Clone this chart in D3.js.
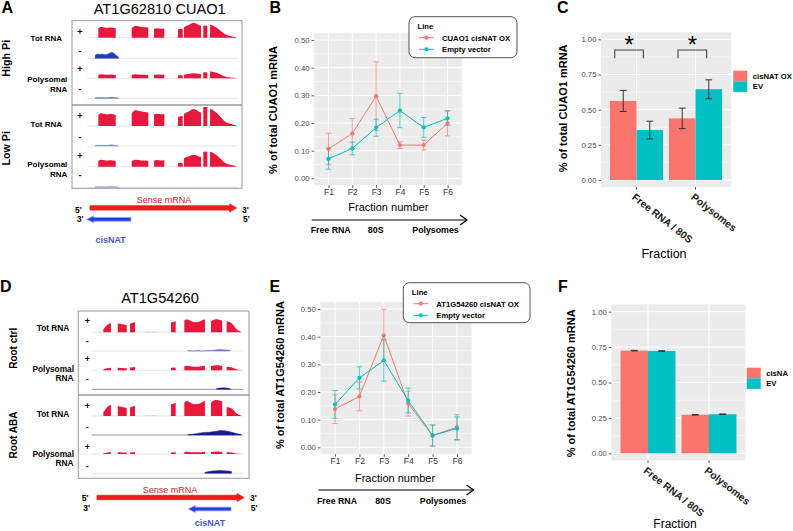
<!DOCTYPE html>
<html>
<head>
<meta charset="utf-8">
<script src="https://cdn.jsdelivr.net/npm/d3@7"></script>
<style>
body { margin: 0; background: #fff; }
svg { display: block; font-family: "Liberation Sans", Arial, sans-serif; }
</style>
</head>
<body>
<svg id="fig" width="793" height="531"></svg>
<script>
//Fractions of the sucrose gradient
var fractions = ["F1", "F2", "F3", "F4", "F5", "F6"];
var lineTicks = [0, 0.1, 0.2, 0.3, 0.4, 0.5];

//Panel B - CUAO1 mRNA per fraction
var cuaoOx = [0.106, 0.162, 0.297, 0.120, 0.120, 0.199];
var cuaoOxErr = [0.057, 0.054, 0.124, 0.012, 0.018, 0.046];
var cuaoEv = [0.070, 0.108, 0.183, 0.245, 0.184, 0.217];
var cuaoEvErr = [0.037, 0.023, 0.031, 0.062, 0.036, 0.026];

//Panel E - AT1G54260 mRNA per fraction
var at54Ox = [0.138, 0.184, 0.405, 0.158, 0.042, 0.073];
var at54OxErr = [0.052, 0.052, 0.094, 0.045, 0.038, 0.045];
var at54Ev = [0.155, 0.251, 0.314, 0.169, 0.043, 0.068];
var at54EvErr = [0.050, 0.040, 0.075, 0.045, 0.038, 0.042];

//Panels C and F - pooled fractions
var poolGroups = ["Free RNA / 80S", "Polysomes"];
var barTicks = [0, 0.25, 0.5, 0.75, 1];
var cuaoPoolOx = [0.562, 0.438];
var cuaoPoolOxErr = [0.075, 0.073];
var cuaoPoolEv = [0.355, 0.645];
var cuaoPoolEvErr = [0.063, 0.067];
var at54PoolOx = [0.725, 0.272];
var at54PoolEv = [0.722, 0.276];
var at54PoolErr = [0.002, 0.002];

//Panel A - browser coverage, CUAO1 locus (positions 0-1000)
var cuaoExons = [[73, 188], [294, 404], [442, 510], [601, 632], [640, 753], [768, 795], [813, 985]];
var cuaoShapes = [
    [0.85, 1, 0.95, 0.9, 0.9, 0.92, 0.9, 0.85],
    [0.8, 1, 0.95, 0.9, 0.88, 0.85],
    [0.9, 0.95, 0.9, 0.92],
    [0.85, 0.9],
    [0.7, 0.8, 0.85, 0.95, 1, 0.95, 0.85, 0.8],
    [1, 1],
    [1, 0.95, 0.85, 0.75, 0.6, 0.45, 0.3, 0.2, 0.15, 0.12, 0.08, 0.05]
];
var cuaoHighTot = [11, 12, 10, 10, 15, 12, 13];
var cuaoHighPoly = [4, 4, 4, 3.5, 5, 6, 7];
var cuaoLowTot = [13, 16, 13, 11, 17, 19, 17];
var cuaoLowPoly = [7, 7, 7, 4.5, 12, 15, 15];
var cuaoAntiSpan = [52, 206];
var cuaoAntiShape = [0.5, 0.7, 0.65, 0.7, 0.6, 0.65, 0.8, 1, 0.85, 0.5, 0.2];
var cuaoAntiPeaks = [6, 1, 1.2, 0.8];
var cuaoSense = [18, 989];
var cuaoNat = [-4, 289];

//Panel D - browser coverage, AT1G54260 locus
var at54Exons = [[77, 127], [172, 231], [253, 286], [352, 437], [523, 554], [611, 747], [787, 861], [890, 985]];
var at54Shapes = [
    [0.35, 0.6, 0.8, 0.95, 1],
    [1, 0.95, 0.9, 0.85, 0.8],
    [0.85, 0.95, 1],
    [1, 0, 1, 0, 1, 0, 1],
    [0.9, 1],
    [0.9, 1, 0.95, 0.85, 0.8, 0.78, 0.8, 0.85, 0.95, 1],
    [0.85, 0.95, 1, 1, 0.95, 0.9],
    [1, 0.95, 0.85, 0.6, 0.3, 0.15, 0.05]
];
var at54CtrlTot = [9, 9, 10, 0.7, 11, 13, 13, 11];
var at54CtrlPoly = [2.5, 2.5, 3.2, 0, 2.8, 4.5, 5, 3.5];
var at54AbaTot = [11, 10, 10, 0.7, 13, 15, 16, 9];
var at54AbaPoly = [1.8, 1.8, 1.8, 0, 1.8, 2.2, 2.4, 1.8];
var at54AntiSpans = [[635, 913], [824, 913], [635, 985], [747, 923]];
var at54AntiShapes = [
    [0.3, 0, 0, 0.3, 0, 0, 0.3, 0.3, 0.5, 0.8, 0.9, 0.8, 0.7, 0.5],
    [0.5, 0.8, 1, 0.8, 0.5],
    [0.1, 0.15, 0.3, 0.45, 0.55, 0.6, 0.7, 0.85, 1, 0.95, 0.8, 0.55, 0.3, 0.15],
    [0.3, 0.6, 0.8, 0.9, 1, 0.9, 0.8, 0.6]
];
var at54AntiPeaks = [1.6, 1.5, 4.5, 2.8];
var at54Sense = [35, 1005];
var at54Nat = [637, 919];

var RED = "#F8766D", TEAL = "#00BFC4";
var svg = d3.select("#fig");

//helper for plain text
function txt(x, y, s, o) {
    o = o || {};
    var t = svg.append("text").attr("x", x).attr("y", y).text(s)
        .attr("font-size", o.size || 9)
        .attr("font-weight", o.bold ? "bold" : "normal")
        .attr("fill", o.fill || "#000")
        .attr("text-anchor", o.anchor || "start");
    if (o.rot != null) t.attr("transform", "rotate(" + o.rot + "," + x + "," + y + ")");
    return t;
}

function styleAxis(a, size, color, bold) {
    a.attr("font-family", "Liberation Sans, Arial, sans-serif").attr("font-size", size);
    a.select(".domain").remove();
    a.selectAll(".tick line").attr("stroke", "#333").attr("stroke-width", 0.8);
    a.selectAll(".tick text").attr("fill", color).attr("font-weight", bold ? "bold" : "normal");
}

//Line chart with error bars (panels B and E)
function linePanel(p) {
    var x = d3.scalePoint().domain(fractions).range([p.left, p.right]).padding(0.6);
    var y = d3.scaleLinear().domain([-0.025, 0.525]).range([p.bottom, p.top]);
    var g = svg.append("g");
    g.append("rect").attr("x", p.left).attr("y", p.top)
        .attr("width", p.right - p.left).attr("height", p.bottom - p.top).attr("fill", "#ebebeb");
    g.selectAll(null).data(d3.pairs(lineTicks)).enter().append("line")
        .attr("x1", p.left).attr("x2", p.right)
        .attr("y1", function(d) { return y((d[0] + d[1]) / 2); })
        .attr("y2", function(d) { return y((d[0] + d[1]) / 2); })
        .attr("stroke", "#fff").attr("stroke-width", 0.5);
    g.selectAll(null).data(lineTicks).enter().append("line")
        .attr("x1", p.left).attr("x2", p.right)
        .attr("y1", function(d) { return y(d); }).attr("y2", function(d) { return y(d); })
        .attr("stroke", "#fff").attr("stroke-width", 1);
    g.selectAll(null).data(fractions).enter().append("line")
        .attr("y1", p.top).attr("y2", p.bottom)
        .attr("x1", function(d) { return x(d); }).attr("x2", function(d) { return x(d); })
        .attr("stroke", "#fff").attr("stroke-width", 1);

    var ya = g.append("g").attr("transform", "translate(" + p.left + ",0)")
        .call(d3.axisLeft(y).tickValues(lineTicks).tickFormat(d3.format(".2f")).tickSize(2.7).tickPadding(2));
    styleAxis(ya, 7.7, "#4d4d4d");
    var xa = g.append("g").attr("transform", "translate(0," + p.bottom + ")")
        .call(d3.axisBottom(x).tickSize(2.7).tickPadding(1));
    styleAxis(xa, 8.5, "#333");

    p.series.forEach(function(s) {
        var pts = fractions.map(function(f, i) { return {f: f, v: s.values[i], e: s.err[i]}; });
        g.selectAll(null).data(pts).enter().append("path")
            .attr("d", function(d) {
                var cx = x(d.f), t = y(d.v + d.e), b = y(d.v - d.e);
                return "M" + (cx - 2.8) + "," + t + "H" + (cx + 2.8) + "M" + cx + "," + t + "V" + b +
                    "M" + (cx - 2.8) + "," + b + "H" + (cx + 2.8);
            })
            .attr("stroke", s.color).attr("stroke-opacity", 0.7).attr("stroke-width", 1).attr("fill", "none");
    });
    p.series.forEach(function(s) {
        var pts = fractions.map(function(f, i) { return {f: f, v: s.values[i]}; });
        g.append("path").datum(pts)
            .attr("d", d3.line().x(function(d) { return x(d.f); }).y(function(d) { return y(d.v); }))
            .attr("stroke", s.color).attr("stroke-width", 1).attr("fill", "none");
        g.selectAll(null).data(pts).enter().append("circle")
            .attr("cx", function(d) { return x(d.f); }).attr("cy", function(d) { return y(d.v); })
            .attr("r", 2.1).attr("fill", s.color);
    });

    //legend box
    var L = p.legend;
    g.append("rect").attr("x", L.x).attr("y", L.y).attr("width", L.w).attr("height", L.h)
        .attr("rx", 6).attr("fill", "#fff").attr("stroke", "#555").attr("stroke-width", 1);
    txt(L.x + 8.5, L.y + 12, "Line", {size: 7.7, bold: true});
    p.series.forEach(function(s, i) {
        var ky = L.y + 21 + i * 11.6;
        g.append("line").attr("x1", L.x + 10).attr("x2", L.x + 25).attr("y1", ky).attr("y2", ky)
            .attr("stroke", s.color).attr("stroke-width", 1);
        g.append("circle").attr("cx", L.x + 17.5).attr("cy", ky).attr("r", 2.1).attr("fill", s.color);
        txt(L.x + 33, ky + 2.8, s.name, {size: 7.7, bold: true});
    });
}

//Grouped bar chart (panels C and F)
function barPanel(p) {
    var x = d3.scaleBand().domain(poolGroups).range([p.left, p.right]).paddingInner(0.1).paddingOuter(0.15);
    var xs = d3.scaleBand().domain(["ox", "ev"]).range([0, x.bandwidth()]);
    var y = d3.scaleLinear().domain([-0.05, 1.05]).range([p.bottom, p.top]);
    var g = svg.append("g");
    g.append("rect").attr("x", p.left).attr("y", p.top)
        .attr("width", p.right - p.left).attr("height", p.bottom - p.top).attr("fill", "#ebebeb");
    g.selectAll(null).data(d3.pairs(barTicks)).enter().append("line")
        .attr("x1", p.left).attr("x2", p.right)
        .attr("y1", function(d) { return y((d[0] + d[1]) / 2); })
        .attr("y2", function(d) { return y((d[0] + d[1]) / 2); })
        .attr("stroke", "#fff").attr("stroke-width", 0.5);
    g.selectAll(null).data(barTicks).enter().append("line")
        .attr("x1", p.left).attr("x2", p.right)
        .attr("y1", function(d) { return y(d); }).attr("y2", function(d) { return y(d); })
        .attr("stroke", "#fff").attr("stroke-width", 1);
    g.selectAll(null).data(poolGroups).enter().append("line")
        .attr("y1", p.top).attr("y2", p.bottom)
        .attr("x1", function(d) { return x(d) + x.bandwidth() / 2; })
        .attr("x2", function(d) { return x(d) + x.bandwidth() / 2; })
        .attr("stroke", "#fff").attr("stroke-width", 1);

    var ya = g.append("g").attr("transform", "translate(" + p.left + ",0)")
        .call(d3.axisLeft(y).tickValues(barTicks).tickFormat(d3.format(".2f")).tickSize(2.7).tickPadding(2));
    styleAxis(ya, 7.7, "#4d4d4d");
    var xa = g.append("g").attr("transform", "translate(0," + p.bottom + ")")
        .call(d3.axisBottom(x).tickSize(2.7));
    styleAxis(xa, 10.3, "#222", true);
    xa.selectAll(".tick text").attr("text-anchor", "start").attr("x", 3).attr("y", 5)
        .attr("dy", "0.71em").attr("transform", "rotate(38)");

    var rows = [];
    poolGroups.forEach(function(gr, i) {
        rows.push({g: gr, k: "ox", v: p.ox[i], e: p.oxErr[i], c: RED});
        rows.push({g: gr, k: "ev", v: p.ev[i], e: p.evErr[i], c: TEAL});
    });
    g.selectAll(null).data(rows).enter().append("rect")
        .attr("x", function(d) { return x(d.g) + xs(d.k); })
        .attr("width", xs.bandwidth())
        .attr("y", function(d) { return y(d.v); })
        .attr("height", function(d) { return y(0) - y(d.v); })
        .attr("fill", function(d) { return d.c; });
    g.selectAll(null).data(rows).enter().append("path")
        .attr("d", function(d) {
            var cx = x(d.g) + xs(d.k) + xs.bandwidth() / 2, t = y(d.v + d.e), b = y(d.v - d.e);
            return "M" + (cx - 3.4) + "," + t + "H" + (cx + 3.4) + "M" + cx + "," + t + "V" + b +
                "M" + (cx - 3.4) + "," + b + "H" + (cx + 3.4);
        })
        .attr("stroke", "#333").attr("stroke-width", 1).attr("fill", "none");

    //significance brackets
    (p.sig || []).forEach(function(s) {
        var x0 = x(s.g) + s.from * x.bandwidth(), x1 = x(s.g) + s.to * x.bandwidth();
        g.append("path")
            .attr("d", "M" + x0 + "," + y(0.865) + "V" + y(0.924) + "H" + x1 + "V" + y(0.865))
            .attr("stroke", "#444").attr("stroke-width", 1.1).attr("fill", "none");
        txt((x0 + x1) / 2, y(0.924) + 3, "*", {size: 24, anchor: "middle"});
    });

    //legend keys
    var L = p.legend;
    [["ox", RED], ["ev", TEAL]].forEach(function(k, i) {
        g.append("rect").attr("x", L.x).attr("y", L.y + i * 10.6).attr("width", 14).attr("height", 10.6)
            .attr("fill", k[1]);
        txt(L.x + 19.5, L.y + i * 10.6 + 8, L.names[i], {size: 7.7, bold: true});
    });
}

//Genome browser style coverage tracks (panels A and D)
function drawTracks(t) {
    var gx = d3.scaleLinear().domain([0, 1000]).range(t.range);
    var cov = d3.scaleLinear().domain([0, 20]).range([0, 20]);
    var g = svg.append("g");
    t.baselines.forEach(function(b, i) {
        g.append("line").attr("x1", gx(0)).attr("x2", gx(1000)).attr("y1", b).attr("y2", b)
            .attr("stroke", t.baseColors[i]).attr("stroke-width", 0.7);
    });
    var area = d3.area().x(function(d) { return gx(d[0]); })
        .y0(function(d) { return d[2]; })
        .y1(function(d) { return d[2] - cov(d[1]); });
    t.sense.forEach(function(peaks, i) {
        var base = t.baselines[i * 2];
        t.exons.forEach(function(ex, j) {
            var shp = t.shapes[j], n = shp.length;
            if (peaks[j] <= 0) return;
            var pts = shp.map(function(v, k) { return [ex[0] + (ex[1] - ex[0]) * k / (n - 1), v * peaks[j], base]; });
            g.append("path").attr("d", area(pts)).attr("fill", j === t.faintExon ? "#bbb" : "#e8173c");
        });
    });
    t.anti.forEach(function(a, i) {
        var base = t.baselines[i * 2 + 1], n = a.shape.length;
        var pts = a.shape.map(function(v, k) { return [a.span[0] + (a.span[1] - a.span[0]) * k / (n - 1), v * a.peak, base]; });
        g.append("path").attr("d", area(pts)).attr("fill", a.color).attr("stroke", a.color).attr("stroke-width", 0.5);
    });
    g.append("rect").attr("x", t.box[0]).attr("y", t.box[1])
        .attr("width", t.box[2] - t.box[0]).attr("height", t.box[3] - t.box[1])
        .attr("fill", "none").attr("stroke", "#999").attr("stroke-width", 1);
    g.append("line").attr("x1", t.box[0]).attr("x2", t.box[2]).attr("y1", t.divider).attr("y2", t.divider)
        .attr("stroke", "#666").attr("stroke-width", 1);
    t.signs.forEach(function(sy, i) {
        txt(t.signX, sy + 3, i % 2 === 0 ? "+" : "-", {size: 9, bold: true, anchor: "middle"});
    });

    //gene models
    function arrow(span, yc, dir, half, fill, stroke) {
        var a = gx(span[0]), b = gx(span[1]), hl = 7, sh = half * 0.55;
        var d;
        if (dir > 0) {
            d = "M" + a + "," + (yc - sh) + "H" + (b - hl) + "V" + (yc - half) + "L" + b + "," + yc +
                "L" + (b - hl) + "," + (yc + half) + "V" + (yc + sh) + "H" + a + "Z";
        } else {
            d = "M" + b + "," + (yc - sh) + "H" + (a + hl) + "V" + (yc - half) + "L" + a + "," + yc +
                "L" + (a + hl) + "," + (yc + half) + "V" + (yc + sh) + "H" + b + "Z";
        }
        g.append("path").attr("d", d).attr("fill", fill).attr("stroke", stroke).attr("stroke-width", 0.8);
    }
    arrow(t.senseSpan, t.senseY, 1, 4, "#f01c1c", "#f01c1c");
    arrow(t.natSpan, t.natY, -1, 3.4, "#1f3de0", "#8aa0f0");
    txt(t.senseLabel[0], t.senseLabel[1], "Sense mRNA", {size: 9, fill: "#cc2229", anchor: "middle"});
    txt(t.natLabel[0], t.natLabel[1], "cisNAT", {size: 9, bold: true, fill: "#4a55c0", anchor: "middle"});
    t.ends.forEach(function(e) { txt(e[0], e[1], e[2], {size: 8.5, bold: true}); });
}

//Panel letters
txt(1.5, 12.7, "A", {size: 16, bold: true});
txt(269.5, 12.7, "B", {size: 16, bold: true});
txt(557, 12.7, "C", {size: 16, bold: true});
txt(0, 291.7, "D", {size: 16, bold: true});
txt(269.5, 291.7, "E", {size: 16, bold: true});
txt(558, 291.7, "F", {size: 16, bold: true});

//Panel A
txt(159.7, 13.5, "AT1G62810 CUAO1", {size: 14.6, anchor: "middle"});
drawTracks({
    range: [87.3, 238.3],
    box: [72, 20.7, 242, 188.3], divider: 105,
    baselines: [37.7, 58.3, 78.3, 98.3, 126, 146, 166.7, 187.3],
    baseColors: ["#d8d8d8", "#d8d8d8", "#d8d8d8", "#d8d8d8", "#d8d8d8", "#d8d8d8", "#d8d8d8", "#d8d8d8"],
    exons: cuaoExons, shapes: cuaoShapes, faintExon: -1,
    sense: [cuaoHighTot, cuaoHighPoly, cuaoLowTot, cuaoLowPoly],
    anti: [
        {span: cuaoAntiSpan, shape: cuaoAntiShape, peak: cuaoAntiPeaks[0], color: "#1f3fb8"},
        {span: cuaoAntiSpan, shape: cuaoAntiShape, peak: cuaoAntiPeaks[1], color: "#5a6cc0"},
        {span: cuaoAntiSpan, shape: cuaoAntiShape, peak: cuaoAntiPeaks[2], color: "#7f8fd0"},
        {span: cuaoAntiSpan, shape: cuaoAntiShape, peak: cuaoAntiPeaks[3], color: "#8f9bd0"}
    ],
    signX: 80, signs: [31.7, 51, 69.3, 89.3, 116, 136.7, 156, 175],
    senseSpan: cuaoSense, senseY: 207.9, natSpan: cuaoNat, natY: 219.3,
    senseLabel: [164, 203], natLabel: [110.7, 242.7],
    ends: [[75, 213, "5'"], [242, 213, "3'"], [76.7, 222, "3'"], [243, 222, "5'"]]
});
txt(62, 40.7, "Tot RNA", {size: 8, bold: true, anchor: "end"});
txt(67.3, 81.7, "Polysomal", {size: 8, bold: true, anchor: "end"});
txt(67.3, 91.7, "RNA", {size: 8, bold: true, anchor: "end"});
txt(62, 127.3, "Tot RNA", {size: 8, bold: true, anchor: "end"});
txt(67.3, 167.3, "Polysomal", {size: 8, bold: true, anchor: "end"});
txt(67.3, 176.7, "RNA", {size: 8, bold: true, anchor: "end"});
txt(10, 58.3, "High Pi", {size: 10.7, bold: true, anchor: "middle", rot: -90});
txt(10, 148.3, "Low Pi", {size: 10.7, bold: true, anchor: "middle", rot: -90});

//Panel D
txt(160, 303.3, "AT1G54260", {size: 14.6, anchor: "middle"});
drawTracks({
    range: [91.7, 243.3],
    box: [78.3, 311, 249, 478.3], divider: 395,
    baselines: [332.3, 351, 370.3, 389.3, 416, 435, 454, 473.3],
    baseColors: ["#d8d8d8", "#d8d8d8", "#d8d8d8", "#666", "#d8d8d8", "#666", "#d8d8d8", "#d8d8d8"],
    exons: at54Exons, shapes: at54Shapes, faintExon: 3,
    sense: [at54CtrlTot, at54CtrlPoly, at54AbaTot, at54AbaPoly],
    anti: [
        {span: at54AntiSpans[0], shape: at54AntiShapes[0], peak: at54AntiPeaks[0], color: "#6a78c0"},
        {span: at54AntiSpans[1], shape: at54AntiShapes[1], peak: at54AntiPeaks[1], color: "#1a1a90"},
        {span: at54AntiSpans[2], shape: at54AntiShapes[2], peak: at54AntiPeaks[2], color: "#1a1a96"},
        {span: at54AntiSpans[3], shape: at54AntiShapes[3], peak: at54AntiPeaks[3], color: "#1a1a96"}
    ],
    signX: 87.3, signs: [321, 341, 359.3, 379.3, 406, 426.7, 446.7, 466],
    senseSpan: at54Sense, senseY: 497.5, natSpan: at54Nat, natY: 509,
    senseLabel: [170, 492.7], natLabel: [210, 525.7],
    ends: [[81.7, 500.7, "5'"], [250, 500.7, "3'"], [83.3, 510.7, "3'"], [250.7, 510.7, "5'"]]
});
txt(69.3, 331, "Tot RNA", {size: 8.3, bold: true, anchor: "end"});
txt(74, 371.7, "Polysomal", {size: 8.3, bold: true, anchor: "end"});
txt(73.5, 380.7, "RNA", {size: 8.3, bold: true, anchor: "end"});
txt(69.3, 416.7, "Tot RNA", {size: 8.3, bold: true, anchor: "end"});
txt(74, 456.7, "Polysomal", {size: 8.3, bold: true, anchor: "end"});
txt(73.5, 466, "RNA", {size: 8.3, bold: true, anchor: "end"});
txt(16.7, 348.3, "Root ctrl", {size: 10, bold: true, anchor: "middle", rot: -90});
txt(16.7, 435, "Root ABA", {size: 10, bold: true, anchor: "middle", rot: -90});

//Panel B
linePanel({
    left: 314.2, right: 461.8, top: 33.1, bottom: 185.2,
    series: [
        {name: "CUAO1 cisNAT OX", values: cuaoOx, err: cuaoOxErr, color: RED},
        {name: "Empty vector", values: cuaoEv, err: cuaoEvErr, color: TEAL}
    ],
    legend: {x: 409, y: 16.7, w: 108, h: 41}
});
txt(277.3, 110, "% of total CUAO1 mRNA", {size: 11, bold: true, anchor: "middle", rot: -90});
txt(388.3, 210.5, "Fraction number", {size: 11, anchor: "middle"});

//Panel E
linePanel({
    left: 320.4, right: 471.6, top: 302.1, bottom: 454.2,
    series: [
        {name: "AT1G54260 cisNAT OX", values: at54Ox, err: at54OxErr, color: RED},
        {name: "Empty vector", values: at54Ev, err: at54EvErr, color: TEAL}
    ],
    legend: {x: 403.3, y: 282.7, w: 126.7, h: 40}
});
txt(284, 375, "% of total AT1G54260 mRNA", {size: 11, bold: true, anchor: "middle", rot: -90});
txt(395, 481.5, "Fraction number", {size: 11, anchor: "middle"});

//Gradient arrows under B and E
function gradientArrow(x0, x1, y, labY, labs) {
    svg.append("line").attr("x1", x0).attr("x2", x1).attr("y1", y).attr("y2", y)
        .attr("stroke", "#000").attr("stroke-width", 1);
    svg.append("path").attr("d", "M" + (x1 - 7) + "," + (y - 5) + "L" + x1 + "," + y + "L" + (x1 - 7) + "," + (y + 5))
        .attr("fill", "none").attr("stroke", "#000").attr("stroke-width", 1.2);
    labs.forEach(function(l) { txt(l[0], labY, l[1], {size: 8.8, bold: true, anchor: "middle"}); });
}
gradientArrow(311.7, 467, 220, 233, [[330.7, "Free RNA"], [375.7, "80S"], [435.5, "Polysomes"]]);
gradientArrow(318.3, 473.5, 490, 504, [[337, "Free RNA"], [383, "80S"], [443, "Polysomes"]]);

//Panel C
barPanel({
    left: 601.1, right: 730.9, top: 32.3, bottom: 187,
    ox: cuaoPoolOx, oxErr: cuaoPoolOxErr, ev: cuaoPoolEv, evErr: cuaoPoolEvErr,
    sig: [{g: "Free RNA / 80S", from: 0.09, to: 0.63}, {g: "Polysomes", from: 0.17, to: 0.71}],
    legend: {x: 733.3, y: 70.7, names: ["cisNAT OX", "EV"]}
});
txt(566.7, 108.3, "% of total CUAO1 mRNA", {size: 11, bold: true, anchor: "middle", rot: -90});
txt(664, 257.5, "Fraction", {size: 12.5, anchor: "middle"});

//Panel F
barPanel({
    left: 611.4, right: 745.6, top: 304.6, bottom: 460.4,
    ox: at54PoolOx, oxErr: at54PoolErr, ev: at54PoolEv, evErr: at54PoolErr,
    legend: {x: 746.7, y: 367.7, names: ["cisNA", "EV"]}
});
txt(575, 383.3, "% of total AT1G54260 mRNA", {size: 11, bold: true, anchor: "middle", rot: -90});
txt(675, 527.5, "Fraction", {size: 12, anchor: "middle"});
</script>
</body>
</html>
